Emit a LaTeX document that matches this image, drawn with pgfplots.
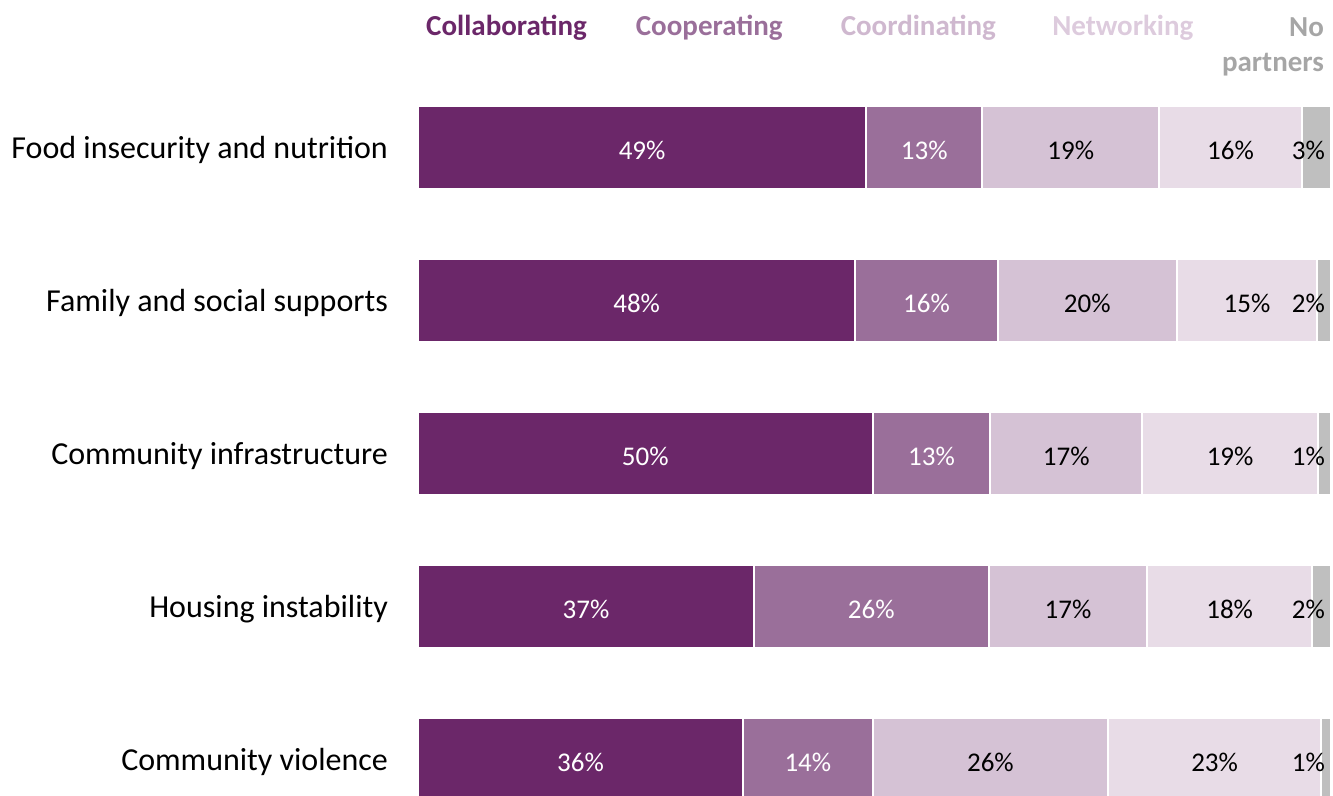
\documentclass[border=0pt]{standalone}
\usepackage{fontspec}
\setmainfont{Carlito}
\usepackage{pgfplots}
\pgfplotsset{compat=1.18}
\usepackage{pgfplotstable}

\definecolor{collab}{HTML}{6B2769}
\definecolor{coop}{HTML}{9A6F9A}
\definecolor{coord}{HTML}{D5C2D5}
\definecolor{netw}{HTML}{E8DCE7}
\definecolor{nopart}{HTML}{BFBFBF}
\definecolor{coordtxt}{HTML}{CFB8CF}
\definecolor{netwtxt}{HTML}{DDCBDD}
\definecolor{noparttxt}{HTML}{A6A6A6}

% shares (labels are rounded)
\pgfplotstableread{
y collab coop coord netw none pos
0 49.1 12.7 19.4 15.6 3.2 100.1
1 47.9 15.6 19.6 15.4 1.5 100.1
2 49.8 12.9 16.6 19.3 1.4 100.1
3 36.8 25.7 17.4 18.0 2.1 100.1
4 35.6 14.2 25.8 23.3 1.1 100.1
}\data

\tikzset{lab/.style={font=\fontsize{13.5}{16}\selectfont, yshift=-1pt}}
\pgfplotsset{
  base/.style={
    scale only axis, width=456.5pt, height=362.2pt,
    xmin=0, xmax=100, ymin=-0.5, ymax=4.235, y dir=reverse,
    axis line style={draw=none}, tick style={draw=none},
    xtick=\empty, clip=false,
    /pgf/number format/assume math mode=true,
    /pgf/number format/.cd, fixed, precision=0,
  },
}

\begin{document}
\begin{tikzpicture}
\begin{axis}[base,
    xbar stacked, bar width=41.5pt,
    ytick={0,1,2,3,4},
    yticklabels={Food insecurity and nutrition, Family and social supports,
      Community infrastructure, Housing instability, Community violence},
    yticklabel style={font=\fontsize{16}{19}\selectfont, xshift=-11.5pt, yshift=-1pt},
    nodes near coords={\pgfmathprintnumber{\pgfplotspointmeta}\%},
    every node near coord/.append style={lab},
]
\addplot[fill=collab, draw=white, line width=1pt,
  every node near coord/.append style={text=white}] table[x=collab, y=y] {\data};
\addplot[fill=coop, draw=white, line width=1pt,
  every node near coord/.append style={text=white}] table[x=coop, y=y] {\data};
\addplot[fill=coord, draw=white, line width=1pt,
  every node near coord/.append style={text=black}] table[x=coord, y=y] {\data};
\addplot[fill=netw, draw=white, line width=1pt,
  every node near coord/.append style={text=black}] table[x=netw, y=y] {\data};
\addplot[fill=nopart, draw=white, line width=1pt, nodes near coords=\empty] table[x=none, y=y] {\data};

\node[font=\bfseries\fontsize{14.5}{17}\selectfont, text=collab] at (rel axis cs:0.097,1.060) {Collaborating};
\node[font=\bfseries\fontsize{14.5}{17}\selectfont, text=coop] at (rel axis cs:0.319,1.060) {Cooperating};
\node[font=\bfseries\fontsize{14.5}{17}\selectfont, text=coordtxt] at (rel axis cs:0.548,1.060) {Coordinating};
\node[font=\bfseries\fontsize{14.5}{17}\selectfont, text=netwtxt] at (rel axis cs:0.772,1.060) {Networking};
\node[font=\bfseries\fontsize{14.5}{17.5}\selectfont, text=noparttxt, align=right, anchor=east] at (rel axis cs:1.0,1.034) {No\\partners};
\coordinate (tl) at (axis cs:0,-0.5);
\coordinate (br) at (axis cs:100,4.235);
\end{axis}
\begin{axis}[base, ytick=\empty]
\addplot[draw=none, mark=none, nodes near coords={\pgfmathprintnumber{\pgfplotspointmeta}\%},
  point meta=explicit,
  every node near coord/.append style={lab, anchor=east, text=black}]
  table[x=pos, y=y, meta=none] {\data};
\end{axis}
\pgfresetboundingbox
\path[use as bounding box] ([xshift=-209pt,yshift=35.75pt]tl) rectangle ([xshift=1pt]br);
\end{tikzpicture}
\end{document}
